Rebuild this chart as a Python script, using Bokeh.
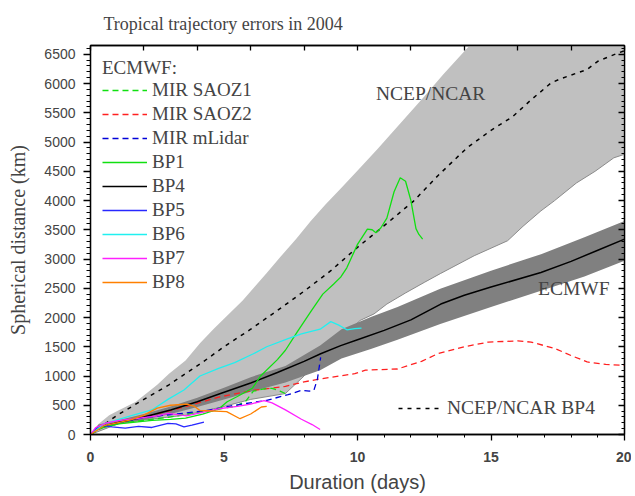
import numpy as np
from bokeh.plotting import figure
from bokeh.models import Range1d, LinearAxis, FixedTicker, Legend, LegendItem, Label
from bokeh.embed import file_html
from bokeh.resources import INLINE

# ---------------- data ----------------
# NCEP/NCAR spread (light grey band)
ncep_hi_x = [0, 0.3, 0.7, 1.06, 1.7, 2.5, 2.94, 3.56, 4.1, 4.6, 5.0, 5.7, 6.1, 6.6, 7.1, 7.7,
             8.25, 8.8, 9.4, 10.1, 10.75, 11.1, 11.8, 12.5, 13.2, 13.9, 14.5, 16, 18, 20]
ncep_hi_y = [0, 180, 330, 414, 560, 850, 1040, 1266, 1560, 1800, 1980, 2290, 2500, 2760, 3030, 3340,
             3650, 3930, 4220, 4560, 4880, 5060, 5420, 5780, 6150, 6500, 6800, 7400, 8200, 9000]
ncep_lo_x = [0, 1.06, 2, 3.56, 5, 6, 7.3, 8, 9, 10.1, 10.62, 11.1, 11.8, 12.5, 13.1, 14.37, 15.62,
             16.2, 16.87, 17.37, 18.2, 18.9, 19.6, 20]
ncep_lo_y = [0, 187, 250, 330, 480, 600, 700, 1000, 1500, 1950, 2062, 2230, 2420, 2600, 2750, 3056,
             3312, 3560, 3823, 3994, 4300, 4500, 4730, 4790]

# ECMWF spread (dark grey band)
ec_x = [0, 0.3, 1, 2, 3, 4, 5, 6, 7.3, 8.6, 9.4, 10.5, 11.5, 13.1, 15, 16.9, 18.5, 20]
ec_hi = [0, 170, 240, 350, 480, 630, 800, 980, 1170, 1520, 1800, 2010, 2180, 2490, 2800, 3085, 3370, 3650]
ec_lo = [0, 90, 170, 250, 350, 470, 600, 730, 890, 1100, 1300, 1460, 1620, 1890, 2180, 2460, 2700, 2970]

# NCEP/NCAR BP4 (dotted)
ncep_bp4_x = [0, 0.56, 1, 2, 2.94, 4.12, 5, 6, 7, 8, 9, 10, 11, 12.1, 13, 14.1, 15, 15.8, 16.5,
              17.25, 17.6, 18.6, 19, 19.75, 20]
ncep_bp4_y = [0, 187, 330, 600, 850, 1210, 1500, 1800, 2120, 2450, 2800, 3200, 3570, 3990, 4420,
              4900, 5200, 5430, 5720, 6010, 6080, 6240, 6380, 6520, 6560]

# ECMWF MIR flights (dashed)
saoz1_x = [0, 0.5, 1, 2, 3, 3.5, 4, 4.5, 5, 5.4, 5.8, 6.1, 6.5, 6.8, 7.1, 7.3]
saoz1_y = [0, 130, 190, 240, 300, 340, 380, 400, 450, 480, 560, 740, 780, 790, 740, 700]

saoz2_x = [0, 0.5, 1, 2, 3, 3.6, 4.8, 6.1, 7.3, 8, 8.6, 9.9, 10.3, 11.5, 12.4, 13, 14, 14.9, 16,
           16.5, 17.4, 18, 18.6, 19.3, 20]
saoz2_y = [0, 150, 200, 300, 410, 480, 640, 755, 823, 900, 950, 1040, 1100, 1120, 1250, 1380, 1500,
           1580, 1600, 1580, 1470, 1350, 1240, 1200, 1180]

mlidar_x = [0, 0.5, 1, 2, 3, 4, 4.4, 5.4, 6.6, 7.4, 7.9, 8.2, 8.37, 8.5, 8.62]
mlidar_y = [0, 150, 200, 290, 340, 390, 414, 500, 585, 680, 755, 740, 760, 950, 1320]

# ECMWF balloons (solid)
bp1_x = [0, 0.3, 1.06, 2.31, 3.0, 3.56, 4.2, 4.81, 5.12, 5.5, 6.06, 6.37, 7.0, 7.3, 7.75, 8.25,
         8.7, 9.1, 9.37, 9.6, 10.0, 10.37, 10.55, 10.69, 10.87, 11.1, 11.37, 11.6, 11.8, 12.0,
         12.19, 12.3, 12.44]
bp1_y = [0, 100, 180, 240, 260, 280, 350, 440, 560, 650, 790, 1000, 1280, 1440, 1760, 2100,
         2400, 2570, 2690, 2850, 3250, 3510, 3500, 3450, 3530, 3700, 4150, 4390, 4330, 4000,
         3520, 3420, 3340]

bp4_x = [0, 0.3, 1, 2, 3, 4, 4.87, 6, 7, 8, 8.62, 9.37, 10, 11, 12, 13.12, 14, 15, 16.87, 18, 19, 20]
bp4_y = [0, 110, 200, 300, 420, 560, 700, 880, 1060, 1250, 1380, 1520, 1620, 1780, 1960, 2230,
         2380, 2520, 2770, 2960, 3150, 3340]

bp5_x = [0, 0.2, 0.5, 0.8, 1.3, 1.8, 2.3, 2.9, 3.2, 3.5, 3.8, 4.25]
bp5_y = [0, 100, 150, 130, 110, 140, 120, 190, 180, 130, 160, 210]

bp6_x = [0, 0.5, 1, 1.6, 2.3, 2.9, 3.5, 4.1, 4.8, 5.4, 6.1, 6.6, 7.4, 7.9, 8.6, 9.0, 9.3, 9.6, 9.9, 10.15]
bp6_y = [0, 180, 250, 330, 420, 600, 760, 1000, 1130, 1230, 1380, 1500, 1640, 1720, 1800, 1930,
         1870, 1790, 1810, 1820]

bp7_x = [0, 0.2, 0.6, 1.1, 1.7, 2.5, 2.9, 3.6, 3.9, 4.8, 5.5, 6.0, 6.5, 6.8, 7.3, 7.9, 8.3, 8.6]
bp7_y = [0, 120, 200, 240, 270, 320, 360, 320, 350, 440, 480, 520, 580, 540, 420, 260, 170, 85]

bp8_x = [0, 0.5, 1, 1.5, 2, 2.5, 3, 3.6, 3.9, 4.1, 5.1, 5.6, 6.0, 6.4, 6.6]
bp8_y = [0, 150, 200, 250, 330, 450, 500, 520, 480, 410, 390, 270, 350, 470, 480]

# text annotations (days, km)
ncep_label_pos = (10.69, 5834)
ecmwf_label_pos = (16.76, 2494)

x_major = [0, 5, 10, 15, 20]
x_minor = list(range(0, 21))
x_top = list(range(0, 21, 2))
y_major = list(range(0, 6501, 500))
y_minor = list(range(0, 6601, 100))

SERIF = "Liberation Serif"
SANS = "Liberation Sans"

W, H = 631, 495
# ---------------- figure ----------------
p = figure(width=W, height=H, x_range=Range1d(0, 20), y_range=Range1d(0, 6650),
           output_backend="svg", toolbar_location=None,
           min_border_left=90, min_border_right=W - 624, min_border_top=44,
           min_border_bottom=H - 434)
p.grid.visible = False
p.outline_line_color = "black"
p.outline_line_width = 1.3
p.background_fill_color = "white"
p.border_fill_color = "white"

p.title.text = "Tropical trajectory errors in 2004"
p.title.align = "left"
p.title.offset = 13
p.title.text_font = SERIF
p.title.text_font_size = "18px"
p.title.text_font_style = "normal"
p.title.standoff = 23

# bottom axis
xa = p.xaxis[0]
xa.ticker = FixedTicker(ticks=x_major, minor_ticks=x_minor)
xa.major_tick_out = 6
xa.major_tick_in = 0
xa.minor_tick_out = 3
xa.minor_tick_in = 0
xa.axis_line_width = 1.3
xa.major_tick_line_width = 1.3
xa.major_label_text_font = SANS
xa.major_label_text_font_size = "14px"
xa.major_label_text_font_style = "bold"
xa.major_label_standoff = 11
xa.axis_label = "Duration (days)"
xa.axis_label_text_font = SANS
xa.axis_label_text_font_size = "20px"
xa.axis_label_text_font_style = "normal"
xa.axis_label_standoff = 6

# left axis
ya = p.yaxis[0]
ya.ticker = FixedTicker(ticks=y_major, minor_ticks=y_minor)
ya.major_tick_out = 7
ya.major_tick_in = 0
ya.minor_tick_out = 4
ya.minor_tick_in = 0
ya.axis_line_width = 1.3
ya.major_tick_line_width = 1.3
ya.major_label_text_font = SANS
ya.major_label_text_font_size = "14px"
ya.major_label_standoff = 8
ya.axis_label = "Spherical distance (km)"
ya.axis_label_text_font = SERIF
ya.axis_label_text_font_size = "20px"
ya.axis_label_text_font_style = "normal"
ya.axis_label_standoff = 12

# right axis (inward ticks, no labels)
ra = LinearAxis(ticker=FixedTicker(ticks=y_major, minor_ticks=y_minor),
                major_tick_in=6, major_tick_out=0, minor_tick_in=3, minor_tick_out=0,
                major_label_text_font_size="1px", major_label_text_color=None,
                major_label_standoff=0,
                axis_line_width=1.3, major_tick_line_width=1.3)
p.add_layout(ra, "right")

# top axis (inward ticks every 2 days, no labels)
ta = LinearAxis(ticker=FixedTicker(ticks=x_top, minor_ticks=[]),
                major_tick_in=5, major_tick_out=0, minor_tick_in=0, minor_tick_out=0,
                major_label_text_font_size="1px", major_label_text_color=None,
                major_label_standoff=0,
                axis_line_width=1.3, major_tick_line_width=1.3)
p.add_layout(ta, "above")

# ---------------- bands ----------------
band_x = list(ncep_hi_x) + list(ncep_lo_x[::-1])
band_y = list(ncep_hi_y) + list(ncep_lo_y[::-1])
p.patch(band_x, band_y, fill_color="#c0c0c0", line_color=None)
p.line(ncep_lo_x, ncep_lo_y, line_color="#8a8a8a", line_width=1)
p.varea(x=ec_x, y1=ec_lo, y2=ec_hi, fill_color="#808080")

# ---------------- lines ----------------
r_ncep = p.line(ncep_bp4_x, ncep_bp4_y, line_color="black", line_width=1.5, line_dash="4 5")
r_s2 = p.line(saoz2_x, saoz2_y, line_color="#ff2020", line_width=1.3, line_dash="6 4")
r_bp4 = p.line(bp4_x, bp4_y, line_color="black", line_width=1.5)
r_s1 = p.line(saoz1_x, saoz1_y, line_color="#10e010", line_width=1.3, line_dash="6 4")
r_ml = p.line(mlidar_x, mlidar_y, line_color="#0000d8", line_width=1.3, line_dash="6 4")
r_bp1 = p.line(bp1_x, bp1_y, line_color="#10e010", line_width=1.3)
r_bp5 = p.line(bp5_x, bp5_y, line_color="#2828ff", line_width=1.3)
r_bp6 = p.line(bp6_x, bp6_y, line_color="#20f0f0", line_width=1.3)
r_bp7 = p.line(bp7_x, bp7_y, line_color="#ff20ff", line_width=1.3)
r_bp8 = p.line(bp8_x, bp8_y, line_color="#ff8000", line_width=1.3)

legend = Legend(items=[
    LegendItem(label="MIR SAOZ1", renderers=[r_s1]),
    LegendItem(label="MIR SAOZ2", renderers=[r_s2]),
    LegendItem(label="MIR mLidar", renderers=[r_ml]),
    LegendItem(label="BP1", renderers=[r_bp1]),
    LegendItem(label="BP4", renderers=[r_bp4]),
    LegendItem(label="BP5", renderers=[r_bp5]),
    LegendItem(label="BP6", renderers=[r_bp6]),
    LegendItem(label="BP7", renderers=[r_bp7]),
    LegendItem(label="BP8", renderers=[r_bp8]),
], location="top_left", title="ECMWF:",
    title_text_font=SERIF, title_text_font_size="19px", title_text_font_style="normal",
    title_standoff=0,
    label_text_font=SERIF, label_text_font_size="19px",
    glyph_width=45, glyph_height=20, label_height=20, spacing=2, label_standoff=5,
    padding=12, margin=0, border_line_alpha=0, background_fill_alpha=0)
p.add_layout(legend)

legend2 = Legend(items=[LegendItem(label="NCEP/NCAR BP4", renderers=[r_ncep])],
                 location=(308, 15), label_text_font=SERIF, label_text_font_size="19.5px",
                 glyph_width=42, glyph_height=20, label_height=20, label_standoff=7,
                 padding=0, margin=0, border_line_alpha=0, background_fill_alpha=0)
p.add_layout(legend2)

p.add_layout(Label(x=ncep_label_pos[0], y=ncep_label_pos[1], text="NCEP/NCAR",
                   text_baseline="middle", text_font=SERIF, text_font_size="19.5px"))
p.add_layout(Label(x=ecmwf_label_pos[0], y=ecmwf_label_pos[1], text="ECMWF",
                   text_baseline="middle", text_font=SERIF, text_font_size="19.5px"))

open("out.html", "w").write(file_html(p, INLINE))
